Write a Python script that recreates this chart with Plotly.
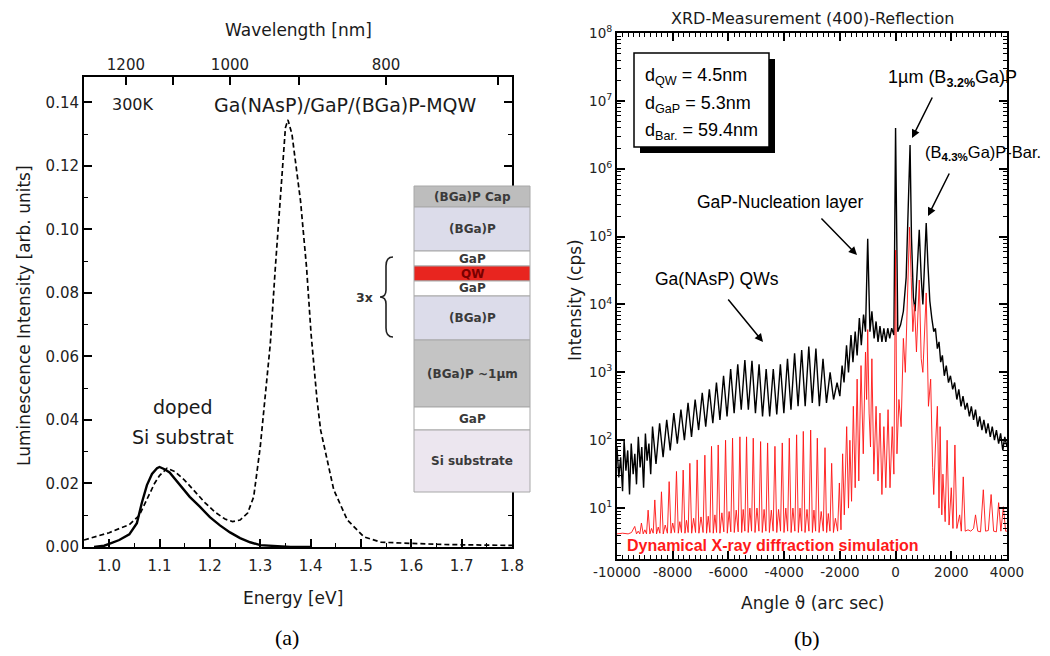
import plotly.graph_objects as go

# ---------------- data : panel (a) photoluminescence ----------------
solid_E = [0.97, 0.99, 1.00, 1.02, 1.04, 1.055, 1.065, 1.075, 1.085, 1.095, 1.10, 1.11, 1.12, 1.14,
           1.16, 1.18, 1.20, 1.22, 1.24, 1.26, 1.28, 1.30, 1.33, 1.36, 1.40]
solid_I = [0.0000, 0.0004, 0.0010, 0.0022, 0.0040, 0.0075, 0.0140, 0.0195, 0.0230, 0.0248, 0.0252, 0.0245,
           0.0235, 0.0195, 0.0158, 0.0127, 0.0094, 0.0068, 0.0046, 0.0028, 0.0015, 0.0006, 0.0002, 0.0, 0.0]

dashed_E = [0.95, 0.98, 1.00, 1.02, 1.04, 1.06, 1.075, 1.09, 1.10, 1.115, 1.13, 1.15, 1.17, 1.19, 1.21,
            1.23, 1.245, 1.26, 1.275, 1.287, 1.30, 1.31, 1.32, 1.33, 1.34, 1.35, 1.355, 1.363, 1.38, 1.392,
            1.401, 1.413, 1.42, 1.446, 1.473, 1.506, 1.54, 1.58, 1.62, 1.66, 1.70, 1.75, 1.80]
dashed_I = [0.0022, 0.0035, 0.0045, 0.0058, 0.0070, 0.0100, 0.0148, 0.0200, 0.0225, 0.0248, 0.0238, 0.0210,
            0.0175, 0.0140, 0.0110, 0.0088, 0.0080, 0.0085, 0.0107, 0.0158, 0.0315, 0.0470, 0.0640, 0.0880,
            0.1090, 0.1320, 0.1345, 0.1300, 0.1090, 0.0880, 0.0670, 0.0460, 0.0368, 0.0180, 0.0085, 0.0032,
            0.0015, 0.0012, 0.0010, 0.0008, 0.0007, 0.0006, 0.0005]

wavelength_ticks = [1200, 1100, 1000, 900, 800, 700]
wavelength_labels = ["1200", "", "1000", "", "800", ""]

layer_names = ["(BGa)P Cap", "(BGa)P", "GaP", "QW", "GaP", "(BGa)P", "(BGa)P ~1µm", "GaP", "Si substrate"]

# ---------------- data : panel (b) XRD (log10 of intensity in cps) ----------------
black_angle = [-10000, -9935, -9870, -9800, -9745, -9680, -9615, -9550, -9490, -9420, -9360, -9300,
               -9235, -9170, -9110, -9045, -8980, -8920, -8855, -8790, -8725, -8600,
               -8470, -8345, -8215, -8090, -7960, -7835, -7705, -7580, -7450, -7325, -7195, -7070,
               -6940, -6815, -6685, -6560, -6430, -6305, -6175, -6050, -5920, -5795, -5665, -5540,
               -5410, -5285, -5155, -5030, -4900, -4775, -4645, -4520, -4390, -4265, -4135, -4010,
               -3880, -3755, -3625, -3500, -3370, -3245, -3115, -2990, -2860, -2735, -2605, -2480,
               -2350, -2225, -2100,
               -2000, -1920, -1850, -1760, -1690, -1600, -1530, -1450, -1380, -1300, -1230, -1150,
               -1080, -1000, -920, -850, -770, -700, -630, -560, -490, -420, -350, -280, -210, -140,
               -60, 0, 80, 180, 280, 380, 450, 520, 570, 640, 700, 780, 850, 920, 980, 1040, 1100,
               1160, 1230, 1300, 1370, 1430, 1500, 1560, 1620, 1680, 1750, 1820, 1900, 1970, 2050,
               2120, 2200, 2270, 2350, 2420, 2500, 2570, 2650, 2720, 2800, 2870, 2950, 3020, 3100,
               3170, 3250, 3320, 3400, 3470, 3550, 3620, 3700, 3770, 3850, 3920, 4000]
black_log = [1.90, 1.45, 1.75, 1.25, 2.00, 1.55, 1.85, 1.20, 1.95, 1.50, 1.80, 1.35,
             2.05, 1.60, 1.90, 1.30, 2.10, 1.70, 1.95, 1.50, 2.20, 1.65,
             2.25, 1.75, 2.30, 1.85, 2.40, 1.95, 2.45, 2.00, 2.55, 2.05, 2.60, 2.15,
             2.70, 2.20, 2.75, 2.25, 2.85, 2.30, 2.95, 2.35, 3.05, 2.40, 3.12, 2.45,
             3.18, 2.45, 3.17, 2.40, 3.12, 2.35, 3.05, 2.35, 3.05, 2.38, 3.12, 2.40,
             3.20, 2.45, 3.28, 2.50, 3.33, 2.50, 3.38, 2.55, 3.35, 2.50, 3.20, 2.55,
             3.00, 2.60, 2.85,
             2.65, 3.10, 2.85, 3.40, 3.00, 3.55, 3.15, 3.60, 3.25, 3.80, 3.40, 3.85,
             3.60, 4.97, 3.60, 3.90, 3.50, 3.75, 3.45, 3.68, 3.45, 3.65, 3.45, 3.65, 3.50, 3.65,
             3.55, 6.60, 3.60, 3.70, 3.90, 4.40, 5.30, 6.35, 5.00, 4.10, 3.90, 4.60, 5.10, 4.40, 4.00, 4.60, 5.20,
             4.60, 4.05, 3.80, 3.60, 3.65, 3.35, 3.45, 3.15, 3.25, 2.95, 3.10, 2.85, 2.95, 2.75,
             2.85, 2.60, 2.75, 2.50, 2.65, 2.45, 2.55, 2.35, 2.50, 2.30, 2.45, 2.20, 2.35, 2.15,
             2.30, 2.10, 2.25, 2.05, 2.20, 2.00, 2.15, 1.95, 2.10, 1.85, 2.05, 1.90]

red_angle = [-10000, -9800, -9600, -9480,
             -9363, -9300, -9240, -9180, -9123, -9060, -9000, -8940, -8883, -8820, -8760, -8700,
             -8643, -8580, -8520, -8460, -8404, -8340, -8270, -8190, -8128, -8060, -8000, -7930,
             -7865, -7800, -7745, -7685, -7625, -7560, -7505, -7445, -7385, -7320, -7250, -7180,
             -7122, -7060, -6985, -6910, -6846, -6785, -6725, -6665, -6607, -6545, -6485, -6425,
             -6367, -6305, -6235, -6165, -6103, -6040, -5975, -5915, -5852, -5790, -5720, -5650,
             -5588, -5525, -5470, -5410, -5349, -5290, -5230, -5170, -5109, -5045, -4975, -4905,
             -4845, -4785, -4720, -4655, -4594, -4530, -4460, -4395, -4330, -4265, -4200, -4130,
             -4067, -4005, -3940, -3875, -3815, -3750, -3685, -3615, -3552, -3490, -3430, -3370,
             -3312, -3250, -3180, -3110, -3048, -2985, -2930, -2870, -2809, -2745, -2670, -2595,
             -2533, -2475, -2415, -2355, -2294, -2230, -2160, -2080, -2018, -1960,
             -1900, -1840, -1755, -1690, -1640, -1580, -1516, -1450, -1380, -1320, -1240, -1160,
             -1080, -1040, -1000, -950, -900, -850, -780, -700, -630, -560, -490, -420, -350,
             -270, -200, -120, -60, 0, 50, 120, 200, 280, 350, 420, 500, 560, 620, 680, 750,
             850, 920, 980, 1100, 1180, 1260, 1330, 1370, 1430, 1500, 1560, 1600, 1660, 1700,
             1780, 1850, 1920, 2000, 2060, 2130, 2200, 2300, 2360, 2430, 2500, 2600, 2700, 2800,
             2870, 2950, 3050, 3150, 3230, 3330, 3430, 3520, 3620, 3700, 3780, 3870, 3950, 4000]
red_log = [0.62, 0.63, 0.62, 0.64,
           0.73, 0.62, 0.66, 0.62, 0.78, 0.62, 0.68, 0.62, 0.97, 0.62, 0.70, 0.63,
           1.12, 0.62, 0.72, 0.63, 1.24, 0.62, 0.75, 0.63, 1.39, 0.63, 0.78, 0.64,
           1.54, 0.63, 0.80, 0.64, 1.56, 0.63, 0.82, 0.64, 1.66, 0.63, 0.85, 0.64,
           1.71, 0.63, 0.87, 0.64, 1.78, 0.63, 0.88, 0.64, 1.91, 0.63, 0.90, 0.64,
           1.93, 0.63, 0.93, 0.65, 2.00, 0.63, 0.95, 0.65, 2.03, 0.64, 0.97, 0.65,
           2.05, 0.64, 0.98, 0.66, 2.05, 0.64, 1.00, 0.66, 2.03, 0.64, 1.00, 0.66,
           1.98, 0.64, 0.98, 0.66, 1.96, 0.64, 0.97, 0.66, 1.91, 0.64, 0.98, 0.66,
           1.96, 0.64, 1.00, 0.66, 2.03, 0.64, 1.00, 0.66, 2.08, 0.64, 1.00, 0.66,
           2.13, 0.64, 0.98, 0.66, 2.15, 0.64, 0.97, 0.66, 2.03, 0.64, 0.95, 0.66,
           1.89, 0.64, 0.92, 0.66, 1.66, 0.64, 0.85, 0.66, 1.37, 0.68,
           1.80, 0.90, 2.20, 1.00, 2.00, 1.10, 2.50, 1.30, 2.90, 1.40, 3.10, 1.80,
           3.30, 2.60, 3.63, 2.40, 1.90, 3.20, 1.50, 2.50, 1.40, 2.40, 1.20, 2.20, 1.30,
           2.45, 1.30, 2.20, 1.50, 4.80, 1.80, 2.60, 2.20, 3.50, 3.00, 4.20, 5.14, 4.40, 3.60, 4.00, 3.30,
           4.36, 3.20, 3.00, 4.17, 2.50, 2.90, 1.60, 1.20, 1.90, 2.50, 1.00, 2.20, 0.90, 1.50,
           0.80, 2.00, 0.75, 1.30, 0.70, 1.93, 0.70, 0.90, 0.66, 1.46, 0.66, 0.68, 0.66, 0.70,
           0.90, 0.66, 0.65, 1.27, 0.66, 0.67, 1.20, 0.66, 0.65, 1.08, 0.66, 1.02, 0.66, 0.66]

xrd_xticks = [-10000, -8000, -6000, -4000, -2000, 0, 2000, 4000]
xrd_ydecades = [1, 2, 3, 4, 5, 6, 7, 8]

assert len(black_angle) == len(black_log), (len(black_angle), len(black_log))
assert len(red_angle) == len(red_log), (len(red_angle), len(red_log))

# ---------------- figure ----------------
W, H = 1050, 656


def PX(x):
    return x / W


def PY(y):
    return 1 - y / H


SANS = "DejaVu Sans"
ARIAL = "Liberation Sans"

fig = go.Figure()

fig.add_trace(go.Scatter(x=dashed_E, y=dashed_I, mode="lines", xaxis="x", yaxis="y",
                         line=dict(color="black", width=1.7, dash="5px,3px"), hoverinfo="skip"))
fig.add_trace(go.Scatter(x=solid_E, y=solid_I, mode="lines", xaxis="x", yaxis="y",
                         line=dict(color="black", width=2.4), hoverinfo="skip"))
fig.add_trace(go.Scatter(x=[1.0], y=[None], mode="lines", xaxis="x2", yaxis="y",
                         hoverinfo="skip"))

fig.add_trace(go.Scatter(x=black_angle, y=[10 ** v for v in black_log], mode="lines",
                         xaxis="x3", yaxis="y3", line=dict(color="black", width=1.4), hoverinfo="skip"))
fig.add_trace(go.Scatter(x=red_angle, y=[10 ** v for v in red_log], mode="lines",
                         xaxis="x3", yaxis="y3", line=dict(color="rgba(255,20,20,0.9)", width=1.0),
                         hoverinfo="skip"))

axis_common = dict(showgrid=False, zeroline=False, showline=True, linecolor="black", linewidth=2,
                   ticks="inside", ticklen=8, tickwidth=1.5, tickcolor="black")

fig.update_layout(
    width=W, height=H, margin=dict(l=0, r=0, t=0, b=0, pad=0, autoexpand=False),
    paper_bgcolor="white", plot_bgcolor="white", showlegend=False,
    xaxis=dict(domain=[PX(84), PX(512)], range=[0.95, 1.8], anchor="y", dtick=0.1, tick0=1.0,
               tickformat=".1f", mirror=True, ticklabelstandoff=4,
               tickfont=dict(family=SANS, size=15, color="#222"),
               minor=dict(ticks="inside", ticklen=4, tickwidth=1.2, dtick=0.05, tick0=1.0, tickcolor="black"),
               **axis_common),
    xaxis2=dict(overlaying="x", side="top", anchor="y", range=[0.95, 1.8],
                tickmode="array", tickvals=[1239.84 / w for w in wavelength_ticks], ticktext=wavelength_labels,
                showgrid=False, zeroline=False, showline=False, ticks="inside", ticklen=8, tickwidth=1.5,
                tickcolor="black", ticklabelstandoff=3, tickfont=dict(family=SANS, size=15, color="#222")),
    yaxis=dict(domain=[PY(547), PY(77)], range=[0, 0.148], anchor="x", dtick=0.02, tickformat=".2f",
               mirror="ticks", tickfont=dict(family=SANS, size=15, color="#222"),
               minor=dict(ticks="inside", ticklen=4, tickwidth=1.2, dtick=0.01, tickcolor="black"),
               **axis_common),
    xaxis3=dict(domain=[PX(617), PX(1007)], range=[-10000, 4000], anchor="y3",
                tickmode="array", tickvals=xrd_xticks, ticktext=[str(v) for v in xrd_xticks],
                mirror="ticks", tickfont=dict(family=SANS, size=13.5, color="#222"),
                minor=dict(ticks="inside", ticklen=4, tickwidth=1, dtick=200, tick0=0, tickcolor="black"),
                **axis_common),
    yaxis3=dict(domain=[PY(559), PY(33)], type="log", range=[0.25, 8.0], anchor="x3",
                tickmode="array", tickvals=[10 ** k for k in xrd_ydecades],
                ticktext=["10<sup>%d</sup>" % k for k in xrd_ydecades],
                mirror="ticks", tickfont=dict(family=SANS, size=13.5, color="#222"),
                minor=dict(ticks="inside", ticklen=4, tickwidth=1, dtick="D1", tickcolor="black"),
                **axis_common),
)

ann = []


def text(x, y, s, size, family=SANS, color="#1a1a1a", xanchor="center", angle=0, bold=False):
    if bold:
        s = "<b>" + s + "</b>"
    ann.append(dict(x=PX(x), y=PY(y), xref="paper", yref="paper", text=s, showarrow=False,
                    xanchor=xanchor, yanchor="middle", textangle=angle,
                    font=dict(family=family, size=size, color=color)))


def arrow(tail, head):
    ann.append(dict(x=PX(head[0]), y=PY(head[1]), xref="paper", yref="paper", text="",
                    showarrow=True, ax=tail[0] - head[0], ay=tail[1] - head[1],
                    arrowhead=2, arrowsize=1.1, arrowwidth=1.5, arrowcolor="black", standoff=0))


# panel (a) texts
text(298, 30, "Wavelength [nm]", 17)
text(293, 598, "Energy [eV]", 17)
text(24, 316, "Luminescence Intensity [arb. units]", 17, angle=-90)
text(110, 105, "300K", 16, xanchor="left")
text(212, 105, "Ga(NAsP)/GaP/(BGa)P-MQW", 19, xanchor="left")
text(183, 407, "doped", 19)
text(183, 437, "Si substrat", 19)
text(287, 637, "(a)", 22, family="Liberation Serif", color="black")

# layer stack inset
shapes = []
stack_left, stack_right = 414, 530
bounds = [186, 207, 251, 266, 281, 296, 340, 407, 430, 492]
fills = ["#bdbdbd", "#dcdcea", "#ffffff", "#e8251f", "#ffffff", "#dcdcea", "#c4c4c4", "#ffffff", "#ece6ef"]
for i, name in enumerate(layer_names):
    shapes.append(dict(type="rect", xref="paper", yref="paper", layer="above",
                       x0=PX(stack_left), x1=PX(stack_right), y0=PY(bounds[i + 1]), y1=PY(bounds[i]),
                       fillcolor=fills[i], line=dict(color="#a8a8a8", width=1)))
    col = "#7a0000" if name == "QW" else "#3a3a3a"
    text((stack_left + stack_right) / 2, (bounds[i] + bounds[i + 1]) / 2, name, 12,
         color=col, bold=True)

# brace and 3x
bp = [(393, 257), (386, 257), (386, 266), (386, 290), (386, 297), (380, 297), (386, 297), (386, 304),
      (386, 328), (386, 337), (393, 337)]
path = ("M {} {} Q {} {} {} {} L {} {} Q {} {} {} {} Q {} {} {} {} L {} {} Q {} {} {} {}").format(
    *[v for p in bp for v in (PX(p[0]), PY(p[1]))])
shapes.append(dict(type="path", xref="paper", yref="paper", path=path, layer="above",
                   line=dict(color="#222", width=1.6)))
text(364, 297, "3x", 12.5, color="#333", bold=True)

# panel (b) texts
text(813, 18, "XRD-Measurement (400)-Reflection", 16)
text(812, 603, "Angle ϑ (arc sec)", 17)
text(575, 300, "Intensity (cps)", 17, angle=-90)
text(807, 638, "(b)", 22, family="Liberation Serif", color="black")

# legend box with shadow
shapes.append(dict(type="rect", xref="paper", yref="paper", layer="above",
                   x0=PX(640), x1=PX(775), y0=PY(153), y1=PY(59), fillcolor="black", line=dict(width=0)))
shapes.append(dict(type="rect", xref="paper", yref="paper", layer="above",
                   x0=PX(634), x1=PX(769), y0=PY(147), y1=PY(53), fillcolor="white",
                   line=dict(color="black", width=1.5)))
text(643, 76, "d<sub>QW</sub> = 4.5nm", 18, family=ARIAL, color="black", xanchor="left")
text(643, 104, "d<sub>GaP</sub> = 5.3nm", 18, family=ARIAL, color="black", xanchor="left")
text(643, 132, "d<sub>Bar.</sub> = 59.4nm", 18, family=ARIAL, color="black", xanchor="left")

text(952, 78, "1µm (B<sub><b>3.2%</b></sub>Ga)P", 18, family=ARIAL, color="black")
text(923, 153, "(B<sub><b>4.3%</b></sub>Ga)P-Bar.", 16.5, family=ARIAL, color="black", xanchor="left")
text(780, 202, "GaP-Nucleation layer", 17.5, family=ARIAL, color="black")
text(717, 279, "Ga(NAsP) QWs", 17.5, family=ARIAL, color="black")
text(625, 545, "Dynamical X-ray diffraction simulation", 16, family=ARIAL, color="#ff1a1a",
     xanchor="left", bold=True)

arrow((933, 96), (912, 138))
arrow((950, 172), (928, 216))
arrow((820, 217), (857, 255))
arrow((727, 298), (763, 342))

fig.update_layout(annotations=ann, shapes=shapes)
fig.write_html("out.html")
